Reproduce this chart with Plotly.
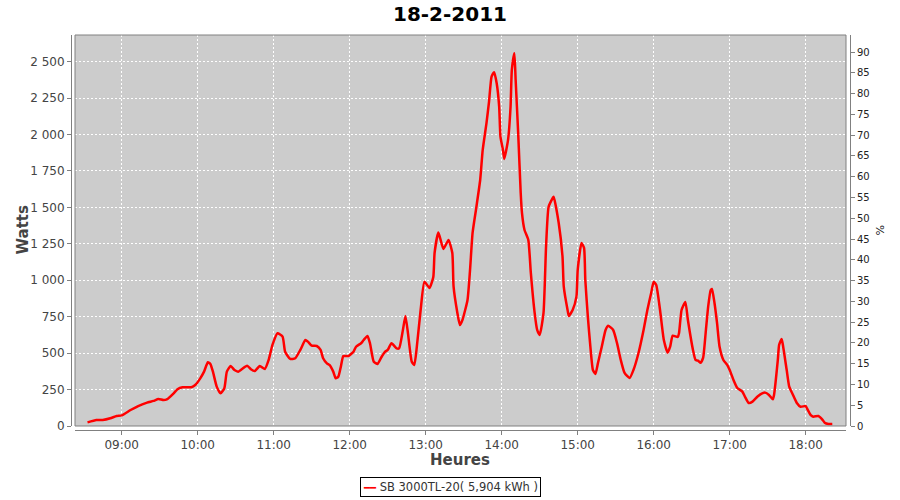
import plotly.graph_objects as go

DATE = "2011-02-18 "
times = [
    "08:33", "08:40", "08:45", "08:51", "08:56", "09:00", "09:07", "09:13", "09:20", "09:25",
    "09:29", "09:33", "09:36", "09:41", "09:44", "09:48", "09:55", "09:58", "10:02", "10:05",
    "10:08", "10:10", "10:12", "10:15", "10:18", "10:21", "10:23", "10:26", "10:29", "10:32",
    "10:35", "10:39", "10:42", "10:45", "10:49", "10:53", "10:56", "10:59", "11:03", "11:07",
    "11:09", "11:13", "11:17", "11:21", "11:25", "11:27", "11:30", "11:34", "11:37", "11:39",
    "11:42", "11:44", "11:47", "11:49", "11:51", "11:53", "11:55", "11:59", "12:03", "12:05",
    "12:09", "12:11", "12:14", "12:16", "12:19", "12:22", "12:25", "12:28", "12:30", "12:33",
    "12:37", "12:39", "12:42", "12:44", "12:46", "12:49", "12:51", "12:53", "12:56", "12:59",
    "13:03", "13:06", "13:07", "13:10", "13:14", "13:18", "13:21", "13:22", "13:25", "13:27",
    "13:29", "13:33", "13:35", "13:37", "13:40", "13:43", "13:45", "13:48", "13:50", "13:52",
    "13:54", "13:56", "13:58", "13:59", "14:01", "14:02", "14:05", "14:07", "14:08", "14:10",
    "14:11", "14:13", "14:15", "14:16", "14:18", "14:21", "14:23", "14:26", "14:28", "14:30",
    "14:33", "14:35", "14:37", "14:40", "14:41", "14:45", "14:48", "14:49", "14:52", "14:53",
    "14:56", "14:59", "15:00", "15:03", "15:05", "15:06", "15:08", "15:10", "15:12", "15:14",
    "15:16", "15:19", "15:22", "15:24", "15:28", "15:31", "15:34", "15:37", "15:41", "15:44",
    "15:48", "15:52", "15:55", "15:58", "16:00", "16:02", "16:05", "16:08", "16:11", "16:13",
    "16:15", "16:19", "16:20", "16:22", "16:25", "16:27", "16:31", "16:33", "16:35", "16:37",
    "16:39", "16:41", "16:43", "16:45", "16:46", "16:48", "16:50", "16:52", "16:55", "16:58",
    "17:00", "17:03", "17:06", "17:10", "17:12", "17:15", "17:18", "17:22", "17:26", "17:28",
    "17:31", "17:34", "17:35", "17:38", "17:39", "17:41", "17:42", "17:45", "17:47", "17:50",
    "17:53", "17:56", "18:00", "18:01", "18:04", "18:06", "18:10", "18:13", "18:15", "18:18",
    "18:21",
]
watts = [
    25, 41, 41, 53, 69, 73, 110, 137, 160, 172,
    185, 178, 185, 224, 252, 266, 266, 281, 327, 373,
    437, 426, 373, 270, 224, 259, 373, 412, 384, 373,
    391, 414, 389, 377, 412, 391, 453, 556, 636, 613,
    510, 460, 465, 522, 590, 579, 551, 549, 522, 465,
    430, 419, 373, 327, 338, 407, 480, 480, 510, 544,
    568, 590, 618, 568, 441, 426, 472, 510, 522, 568,
    533, 533, 659, 755, 636, 441, 419, 544, 796, 990,
    947, 1023, 1187, 1327, 1215, 1277, 1187, 956, 776, 693,
    727, 865, 1071, 1325, 1503, 1688, 1894, 2080, 2226, 2398,
    2428, 2354, 2192, 1986, 1894, 1832, 1963, 2192, 2443, 2558,
    2375, 2011, 1599, 1462, 1345, 1277, 1050, 776, 659, 625,
    776, 1229, 1503, 1560, 1574, 1393, 1162, 956, 796, 755,
    796, 888, 1071, 1256, 1222, 1002, 750, 544, 384, 357,
    432, 544, 659, 688, 659, 570, 453, 364, 329, 384,
    501, 659, 796, 913, 990, 968, 796, 590, 503, 544,
    620, 611, 638, 796, 851, 727, 522, 453, 448, 434,
    467, 638, 819, 933, 940, 844, 707, 544, 453, 419,
    384, 316, 261, 236, 202, 158, 167, 202, 225, 229,
    213, 183, 213, 453, 556, 597, 556, 384, 270, 213,
    158, 132, 137, 121, 75, 64, 69, 46, 23, 14,
    14,
]
series_name = "SB 3000TL-20( 5,904 kWh )"
title_text = "18-2-2011"
y_title = "Watts"
y2_title = "%"
x_title = "Heures"

x = [DATE + t for t in times]

FONT = "DejaVu Sans"
AX = "#808080"
RED = "#FF0000"

fig = go.Figure()
fig.add_trace(go.Scatter(
    x=x, y=watts, mode="lines", name=series_name, showlegend=False,
    line=dict(color=RED, width=2.5, shape="spline", smoothing=0.5),
))
# invisible trace for the right (%) axis
fig.add_trace(go.Scatter(x=[x[0]], y=[0], yaxis="y2", mode="lines",
                         showlegend=False, hoverinfo="skip",
                         line=dict(color="rgba(0,0,0,0)")))

W, H = 900, 500
ml, mr, mt, mb = 71, 50, 35, 70
pw, ph = W - ml - mr, H - mt - mb
gx = 4 / pw
gy = 4 / ph


def px(v):
    return (v - ml) / pw


def py(v):
    return (H - mb - v) / ph


annotations = [
    dict(text="<b>" + y_title + "</b>", xref="paper", yref="paper", x=px(22), y=py(230.5),
         textangle=-90, showarrow=False, xanchor="center", yanchor="middle",
         font=dict(family=FONT, size=15, color="#444444")),
    dict(text="<b>" + x_title + "</b>", xref="paper", yref="paper", x=px(460), y=py(460),
         showarrow=False, xanchor="center", yanchor="middle",
         font=dict(family=FONT, size=15, color="#444444")),
    dict(text=y2_title, xref="paper", yref="paper", x=px(880), y=py(230),
         textangle=90, showarrow=False, xanchor="center", yanchor="middle",
         font=dict(family=FONT, size=11, color="#222222")),
    dict(text="<span style='color:#FF0000;font-size:10px'>━━</span> " + series_name,
         xref="paper", yref="paper", x=px(450.5), y=py(487.5),
         showarrow=False, xanchor="center", yanchor="middle",
         bordercolor="black", borderwidth=1, borderpad=2, bgcolor="white",
         font=dict(family=FONT, size=11.5, color="#333333")),
]

fig.update_layout(
    width=W, height=H,
    margin=dict(l=ml, r=mr, t=mt, b=mb, pad=0, autoexpand=False),
    paper_bgcolor="white", plot_bgcolor="#CCCCCC",
    separators=", ",
    font=dict(family=FONT, color="#444444", size=11),
    title=dict(text="<b>" + title_text + "</b>", x=0.5, xanchor="center",
               y=1 - 14 / H, yanchor="middle",
               font=dict(family=FONT, size=20, color="black")),
    showlegend=False,
    xaxis=dict(
        type="date", domain=[gx, 1 - gx],
        range=["2011-02-18 08:23:07", "2011-02-18 18:31:49"],
        tick0="2011-02-18 09:00", dtick=3600000, tickformat="%H:%M",
        anchor="free", position=0, automargin=False,
        showline=True, linecolor=AX, linewidth=1,
        ticks="outside", ticklen=4, tickcolor=AX,
        showgrid=True, gridcolor="white", griddash="2px,2px", gridwidth=1,
        zeroline=False,
        tickfont=dict(size=12, color="#444444"),
    ),
    yaxis=dict(
        domain=[gy, 1], range=[0, 2683],
        tickmode="linear", tick0=0, dtick=250, tickformat=",d",
        anchor="free", position=0, automargin=False,
        showline=True, linecolor=AX, linewidth=1,
        ticks="outside", ticklen=4, tickcolor=AX,
        showgrid=True, gridcolor="white", griddash="2px,2px", gridwidth=1,
        zeroline=False,
        tickfont=dict(size=12, color="#444444"),
    ),
    yaxis2=dict(
        overlaying="y", side="right", range=[0, 94.1],
        tickmode="linear", tick0=0, dtick=5,
        anchor="free", position=1, automargin=False,
        showline=True, linecolor=AX, linewidth=1,
        ticks="outside", ticklen=4, tickcolor=AX,
        showgrid=False, zeroline=False,
        tickfont=dict(size=10, color="#222222"),
    ),
    annotations=annotations,
    shapes=[dict(type="rect", xref="paper", yref="paper",
                 x0=gx, x1=1 - gx, y0=gy, y1=1,
                 line=dict(color=AX, width=1), fillcolor="rgba(0,0,0,0)", layer="above")],
)

fig.write_html("out.html", config={"displayModeBar": False},
               post_script="document.body.style.margin='0';")
